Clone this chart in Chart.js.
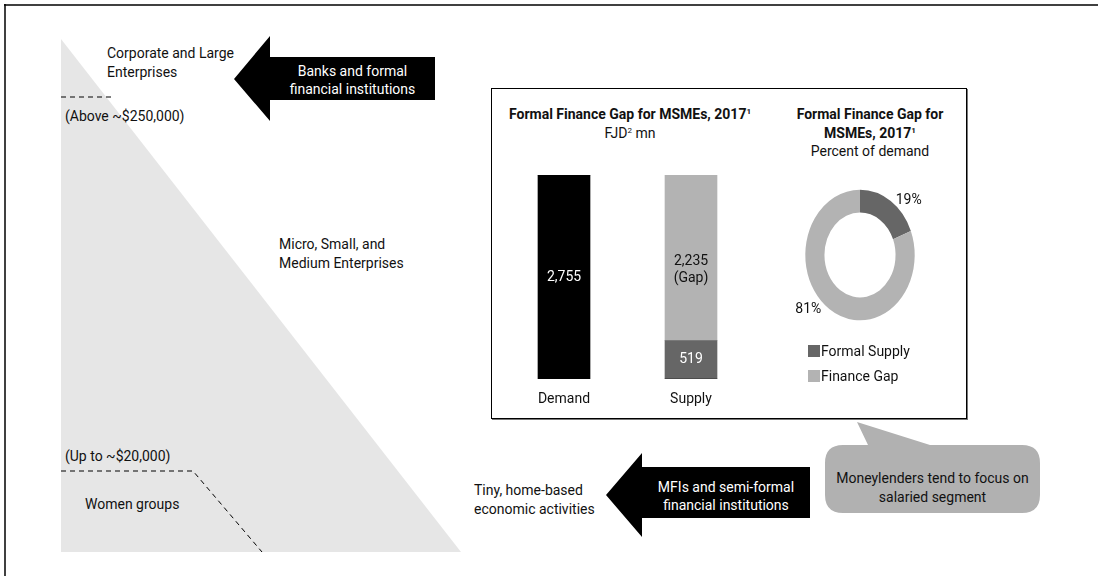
<!DOCTYPE html>
<html>
<head>
<meta charset="utf-8">
<script src="https://cdn.jsdelivr.net/npm/chart.js@4.4.0/dist/chart.umd.min.js"></script>
<style>
  body { margin: 0; background: #fff; }
  #page {
    position: relative; width: 1098px; height: 576px; overflow: hidden;
    font-family: Roboto, 'Liberation Sans Narrow', sans-serif;
    font-size: 14px; color: #111;
  }
  .t { position: absolute; white-space: nowrap; line-height: 19px; }
  .c { text-align: center; }
  .w { color: #fff; }
  .b { font-weight: bold; }
  sup { font-size: 8px; line-height: 0; vertical-align: 5px; }
  #panel {
    position: absolute; left: 491px; top: 88px; width: 476px; height: 331px;
    box-sizing: border-box; border: 1px solid #000; box-shadow: 1px 1px 0 #777;
  }
  canvas { position: absolute; }
  #legend { position: absolute; left: 808px; top: 338px; }
  #legend div { display: flex; align-items: center; height: 25px; }
  #legend span.sw { width: 12px; height: 12px; margin-right: 1px; }
</style>
</head>
<body>
<div id="page">
  <svg width="1098" height="576" style="position:absolute;left:0;top:0">
    <!-- frame -->
    <line x1="4" y1="5" x2="1098" y2="5" stroke="#000" stroke-width="1.5"/>
    <line x1="5" y1="4" x2="5" y2="576" stroke="#000" stroke-width="1.5"/>
    <!-- enterprise pyramid -->
    <polygon points="61,39 61,552 461,552" fill="#e6e6e6"/>
    <line x1="61" y1="97" x2="115" y2="97" stroke="#000" stroke-width="1" stroke-dasharray="5,4"/>
    <polyline points="61,471 193,471 262,552" fill="none" stroke="#000" stroke-width="1" stroke-dasharray="5,4"/>
    <!-- lender arrows -->
    <polygon points="234,79 270,36 270,57 435,57 435,100 270,100 270,121" fill="#000"/>
    <polygon points="606,495 642,453 642,467 810,467 810,518 642,518 642,537" fill="#000"/>
    <!-- moneylender callout -->
    <path d="M843,445 L868,445 L857,422 L930,445 L1022,445 Q1040,445 1040,463 L1040,495 Q1040,513 1022,513 L843,513 Q825,513 825,495 L825,463 Q825,445 843,445 Z" fill="#b1b1b1"/>
  </svg>

  <div class="t" style="left:107px;top:44px">Corporate and Large<br>Enterprises</div>
  <div class="t" style="left:65px;top:107px">(Above ~$250,000)</div>
  <div class="t" style="left:279px;top:235px">Micro, Small, and<br>Medium Enterprises</div>
  <div class="t" style="left:65px;top:447px">(Up to ~$20,000)</div>
  <div class="t" style="left:85px;top:495px">Women groups</div>
  <div class="t" style="left:474px;top:481px">Tiny, home-based<br>economic activities</div>

  <div class="t c w" style="left:270px;width:165px;top:62px;line-height:18px">Banks and formal<br>financial institutions</div>
  <div class="t c w" style="left:642px;width:168px;top:478px;line-height:18px">MFIs and semi-formal<br>financial institutions</div>
  <div class="t c" style="left:825px;width:215px;top:469px;line-height:19px">Moneylenders tend to focus on<br>salaried segment</div>

  <div id="panel"></div>
  <div class="t c" style="left:500px;width:260px;top:105px;line-height:18.5px"><span class="b">Formal Finance Gap for MSMEs, 2017<sup>1</sup></span><br>FJD<sup>2</sup> mn</div>
  <div class="t c" style="left:790px;width:160px;top:105px;line-height:18.5px"><span class="b">Formal Finance Gap for<br>MSMEs, 2017<sup>1</sup></span><br>Percent of demand</div>

  <canvas id="barChart" style="left:491px;top:165px" width="273" height="250"></canvas>
  <canvas id="gapChart" style="left:760px;top:155px" width="200" height="200"></canvas>
  <div id="legend"></div>
</div>

<script>
// MSME demand vs. supply, FJD mn
const barCategories = ['Demand', 'Supply'];
const demandValues = [2755, 0];
const formalSupplyValues = [0, 519];
const financeGapValues = [0, 2235];

// share of demand, percent
const shareLabels = ['Formal Supply', 'Finance Gap'];
const shareValues = [19, 81];

const FONT = "Roboto, 'Liberation Sans Narrow', sans-serif";
const DARK_GREY = '#666666';
const LIGHT_GREY = '#b3b3b3';
const RING_STRETCH = 1.194; // the ring is drawn as an ellipse, taller than wide

Chart.defaults.font.family = FONT;
Chart.defaults.font.size = 14;
Chart.defaults.color = '#111';
Chart.defaults.animation = false;

const fmt = v => v.toLocaleString('en-US');

// value labels inside the bars + category names underneath
const barLabels = {
  id: 'barLabels',
  afterDatasetsDraw(chart) {
    const { ctx, chartArea } = chart;
    ctx.save();
    ctx.font = '14px ' + FONT;
    ctx.textAlign = 'center';
    ctx.textBaseline = 'middle';
    chart.data.datasets.forEach((ds, i) => {
      chart.getDatasetMeta(i).data.forEach((bar, j) => {
        const v = ds.data[j];
        if (!v) return;
        const mid = (bar.y + bar.base) / 2;
        ctx.fillStyle = ds.labelColor;
        if (ds.label === 'Finance Gap') {
          ctx.fillText(fmt(v), bar.x, mid + 4);
          ctx.fillText('(Gap)', bar.x, mid + 21);
        } else {
          ctx.fillText(fmt(v), bar.x, mid);
        }
      });
    });
    ctx.fillStyle = '#111';
    const x = chart.scales.x;
    barCategories.forEach((c, i) => {
      ctx.fillText(c, x.getPixelForValue(i), chartArea.bottom + 20);
    });
    ctx.restore();
  }
};

new Chart(document.getElementById('barChart'), {
  type: 'bar',
  data: {
    labels: barCategories,
    datasets: [
      { label: 'Demand', data: demandValues, backgroundColor: '#000', labelColor: '#fff' },
      { label: 'Formal Supply', data: formalSupplyValues, backgroundColor: DARK_GREY, labelColor: '#fff' },
      { label: 'Finance Gap', data: financeGapValues, backgroundColor: LIGHT_GREY, labelColor: '#111' }
    ]
  },
  options: {
    responsive: false,
    barThickness: 52,
    layout: { padding: { left: 9.5, right: 9.5, top: 10, bottom: 36 } },
    plugins: { legend: { display: false }, tooltip: { enabled: false } },
    scales: {
      x: { display: false, stacked: true },
      y: { display: false, stacked: true, min: 0, max: demandValues[0] }
    }
  },
  plugins: [barLabels]
});

// squash/stretch the ring into an ellipse around its centre
const ellipseRing = {
  id: 'ellipseRing',
  beforeDatasetsDraw(chart) {
    const arc = chart.getDatasetMeta(0).data[0];
    const ctx = chart.ctx;
    ctx.save();
    ctx.translate(arc.x, arc.y);
    ctx.scale(1, RING_STRETCH);
    ctx.translate(-arc.x, -arc.y);
  },
  afterDatasetsDraw(chart) {
    chart.ctx.restore();
  }
};

// percentage labels just outside each slice
const shareText = {
  id: 'shareText',
  afterDraw(chart) {
    const ctx = chart.ctx;
    ctx.save();
    ctx.font = '14px ' + FONT;
    ctx.fillStyle = '#111';
    ctx.textBaseline = 'middle';
    chart.getDatasetMeta(0).data.forEach((arc, i) => {
      const mid = (arc.startAngle + arc.endAngle) / 2;
      const cx = Math.cos(mid), cy = Math.sin(mid);
      const px = arc.x + cx * arc.outerRadius;
      const py = arc.y + cy * arc.outerRadius * RING_STRETCH;
      ctx.textAlign = cx >= 0 ? 'left' : 'right';
      ctx.fillText(shareValues[i] + '%', px + (cx >= 0 ? 5 : -8), py);
    });
    ctx.restore();
  }
};

new Chart(document.getElementById('gapChart'), {
  type: 'doughnut',
  data: {
    labels: shareLabels,
    datasets: [{ data: shareValues, backgroundColor: [DARK_GREY, LIGHT_GREY], borderWidth: 0 }]
  },
  options: {
    responsive: false,
    cutout: '65%',
    layout: { padding: 45.3 },
    plugins: { legend: { display: false }, tooltip: { enabled: false } }
  },
  plugins: [ellipseRing, shareText]
});

// legend for the ring
const legend = document.getElementById('legend');
shareLabels.forEach((name, i) => {
  const row = document.createElement('div');
  const sw = document.createElement('span');
  sw.className = 'sw';
  sw.style.background = [DARK_GREY, LIGHT_GREY][i];
  row.appendChild(sw);
  row.appendChild(document.createTextNode(name));
  legend.appendChild(row);
});
</script>
</body>
</html>
